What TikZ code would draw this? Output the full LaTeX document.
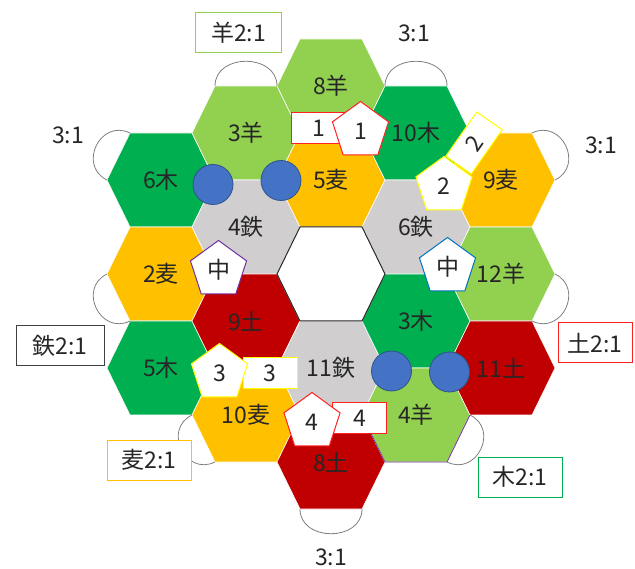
\documentclass[tikz,border=0pt]{standalone}
\usepackage{fontspec}
\setmainfont{Noto Sans CJK JP}
\usetikzlibrary{calc,shapes.geometric}

\definecolor{wood}{HTML}{00B050}
\definecolor{sheep}{HTML}{92D050}
\definecolor{wheat}{HTML}{FFC000}
\definecolor{ore}{HTML}{D0CECE}
\definecolor{brick}{HTML}{C00000}
\definecolor{townfill}{HTML}{4472C4}
\definecolor{townline}{HTML}{2F528F}
\definecolor{portline}{HTML}{7F7F7F}
\definecolor{inktext}{HTML}{262626}
\definecolor{thiefpurple}{HTML}{7030A0}
\definecolor{thiefblue}{HTML}{0070C0}
\definecolor{tagred}{HTML}{FF2020}
\definecolor{tagyellow}{HTML}{FFFF00}

\begin{document}
\begin{tikzpicture}[x=1pt, y=-1pt, font=\fontsize{23}{28}\selectfont, text=inktext]
% Define styles
\tikzset{
    tile/.style={draw=white, line width=0.6pt},
    number/.style={inner sep=0pt},
    town/.style={circle, fill=townfill, draw=townline, line width=0.8pt, minimum size=40pt, inner sep=0pt},
    piece/.style={regular polygon, regular polygon sides=5, fill=white, line width=1pt, minimum size=59pt, inner sep=0pt},
    tag/.style={rectangle, fill=white, line width=1pt, minimum width=54pt, minimum height=31pt, inner sep=0pt},
    port/.style={rectangle, fill=white, line width=1pt, minimum width=86pt, minimum height=40pt, inner sep=0pt},
    harbour/.style={draw=portline, line width=0.8pt}
}

\useasboundingbox (0,0) rectangle (635,569);

% Tiles
\foreach \name/\cx/\cy/\col/\txt in {
    wood6/161/180/wood/6木, wheat2/161/274/wheat/2麦, wood5/161/368/wood/5木,
    sheep3/246/133/sheep/3羊, ore4/246/227/ore/4鉄, brick9/246/321/brick/9土, wheat10/246/415/wheat/10麦,
    sheep8/331/86/sheep/8羊, wheat5/331/180/wheat/5麦, ore11/331/368/ore/11鉄, brick8/331/462/brick/8土,
    wood10/416/133/wood/10木, ore6/416/227/ore/6鉄, wood3/416/321/wood/3木, sheep4/416/415/sheep/4羊,
    wheat9/501/180/wheat/9麦, sheep12/501/274/sheep/12羊, brick11/501/368/brick/11土} {
    \path[fill=\col, tile] (\cx-54,\cy) -- (\cx-31,\cy-47) -- (\cx+31,\cy-47) -- (\cx+54,\cy)
        -- (\cx+31,\cy+47) -- (\cx-31,\cy+47) -- cycle;
    \coordinate (\name-w) at (\cx-54,\cy);
    \coordinate (\name-nw) at (\cx-31,\cy-47);
    \coordinate (\name-ne) at (\cx+31,\cy-47);
    \coordinate (\name-e) at (\cx+54,\cy);
    \coordinate (\name-se) at (\cx+31,\cy+47);
    \coordinate (\name-sw) at (\cx-31,\cy+47);
    \node[number] (\name) at (\cx,\cy) {\txt};
}

% Desert in the middle
\path[fill=white, draw=black!85, line width=1pt] (277,274) -- (300,227) -- (362,227) -- (385,274)
    -- (362,321) -- (300,321) -- cycle;

% Edge of the 4 sheep tile
\draw[thiefpurple, line width=0.8pt] (sheep4-w) -- (sheep4-sw) -- (sheep4-se) -- (sheep4-e);

% Towns
\node[town] (townA) at (213,184.5) {};
\node[town] (townB) at (281,180.5) {};
\node[town] (townC) at (391.5,371) {};
\node[town] (townD) at (449.5,372) {};

% Harbours
\foreach \a/\b in {sheep3-nw/sheep3-ne, wood10-nw/wood10-ne, wheat9-ne/wheat9-e,
    sheep12-e/sheep12-se, sheep4-e/sheep4-se, brick8-se/brick8-sw,
    wheat10-sw/wheat10-w, wheat2-sw/wheat2-w, wood6-w/wood6-nw} {
    \draw[harbour] (\a) .. controls ($(\a)!33pt!90:(\b)$) and ($(\b)!33pt!-90:(\a)$) .. (\b);
}

% Harbour labels
\node[port, draw=sheep] (portsheep) at (238.5,33) {羊2:1};
\node (portnorth) at (414,33) {3:1};
\node (porteast) at (601,145) {3:1};
\node[port, draw=tagred, minimum width=74pt] (portbrick) at (595,343) {土2:1};
\node[port, draw=wood, minimum width=84pt] (portwood) at (520,477) {木2:1};
\node (portsouth) at (331,557) {3:1};
\node[port, draw=wheat, minimum width=84pt] (portwheat) at (149,460) {麦2:1};
\node[port, draw=black!75, minimum width=88pt] (portore) at (60,345.5) {鉄2:1};
\node (portwest) at (68,135) {3:1};

% Player tags
\node[tag, draw=tagred] (tag1) at (318.5,128.5) {1};
\node[tag, draw=tagyellow, rotate=55] (tag2) at (474,143) {2};
\node[tag, draw=tagyellow] (tag3) at (270,373.5) {3};
\node[tag, draw=tagred] (tag4) at (359.5,418.5) {4};

% Pieces
\node[piece, draw=tagred] (piece1) at (360.5,131) {1};
\node[piece, draw=tagyellow] (piece2) at (444,186) {2};
\node[piece, draw=tagyellow] (piece3) at (219.5,373) {3};
\node[piece, draw=tagred] (piece4) at (312,422) {4};
\node[piece, draw=thiefpurple] (thiefwest) at (218.5,270) {中};
\node[piece, draw=thiefblue] (thiefeast) at (447.5,267) {中};

\end{tikzpicture}
\end{document}
